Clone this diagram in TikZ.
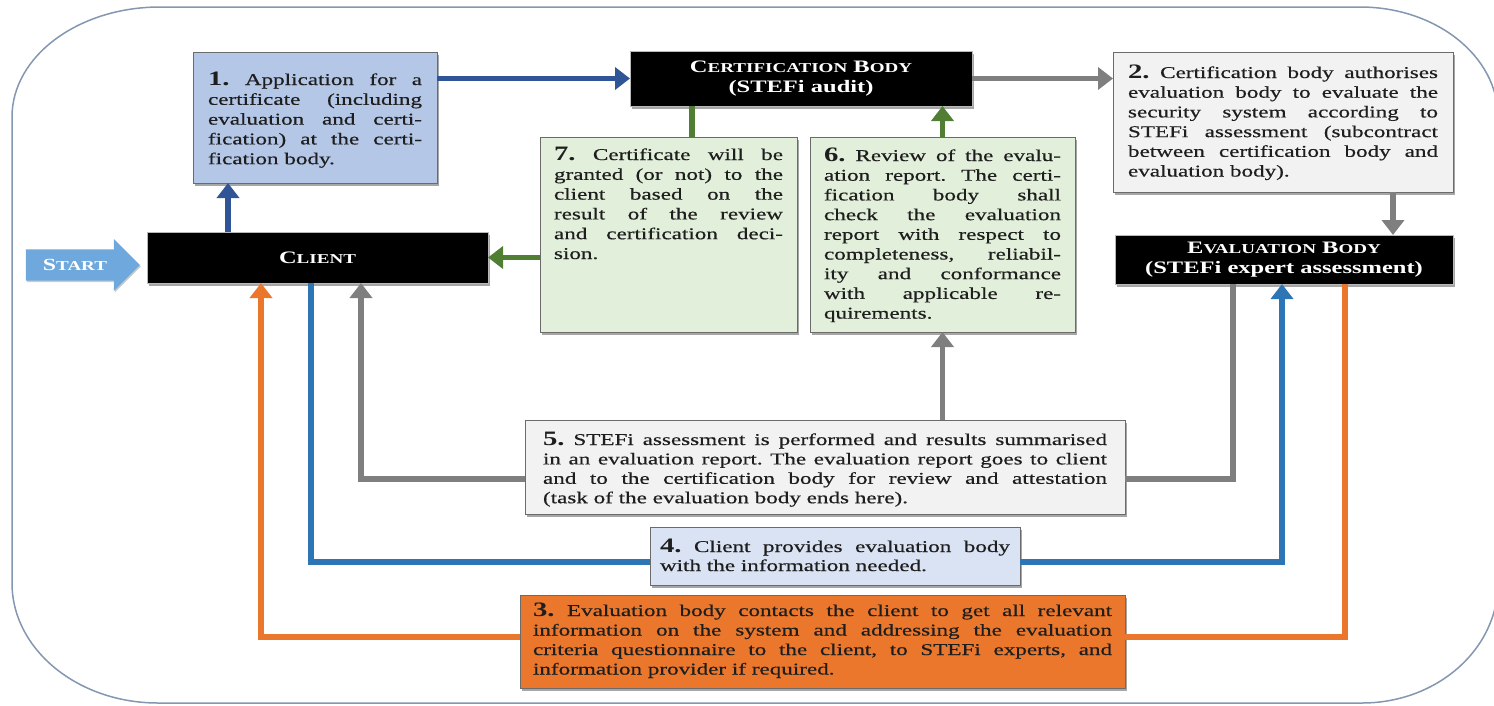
\documentclass[tikz,border=0pt]{standalone}
\usepackage{fontspec}
\setmainfont{Liberation Serif}[FakeStretch=1.4, UprightFeatures={FakeBold=0.5}]
\usetikzlibrary{arrows.meta,shadows,shapes.arrows,calc}
\definecolor{cDarkBlue}{HTML}{2F5597}
\definecolor{cBlue}{HTML}{2E75B6}
\definecolor{cGray}{HTML}{7F7F7F}
\definecolor{cGreen}{HTML}{507E32}
\definecolor{cOrange}{HTML}{EB772C}
\definecolor{cBoxOne}{HTML}{B4C7E7}
\definecolor{cLightGray}{HTML}{F2F2F2}
\definecolor{cLightGreen}{HTML}{E2EFDA}
\definecolor{cLightBlue}{HTML}{DAE3F3}
\definecolor{cFrame}{HTML}{8497B0}
\definecolor{cStart}{HTML}{6FA8DC}
\definecolor{cTxt}{HTML}{1E1E1E}
\definecolor{cBorder}{HTML}{6B6B6B}
\frenchspacing
\newcommand\jl[1]{\hbox to\hsize{#1}}
\newcommand\el[1]{\hbox{#1}}
\newcommand\nm[1]{{\fontsize{20.5pt}{20pt}\selectfont\bfseries #1}}
\newcommand\fl{\vrule height15pt width0pt\relax}
\newcommand\bx[5]{\parbox[c][#1][t]{#2}{\fontsize{16.5pt}{#3}\selectfont\vskip#4\relax #5}}
\newcommand\fsc[2]{#1{\fontsize{13.6pt}{20pt}\selectfont #2}}
\tikzset{
  tbox/.style={draw=cBorder, line width=1pt, inner ysep=0pt, outer sep=0pt, text=cTxt,
    drop shadow={shadow xshift=1.5pt, shadow yshift=-2.5pt, fill=black, opacity=0.35}},
  blackbox/.style={fill=black, draw=gray!55, line width=1pt, text=white, align=center,
    inner sep=0pt, outer sep=0pt, font=\bfseries\fontsize{17.5pt}{20pt}\selectfont,
    drop shadow={shadow xshift=1.5pt, shadow yshift=-2.5pt, fill=black, opacity=0.35}},
  conn/.style={line width=5.5pt},
  tip/.style={-{Triangle[width=22pt,length=15pt]}},
  frame/.style={draw=cFrame, line width=1.5pt}
}
\begin{document}
\begin{tikzpicture}[x=1pt,y=-1pt]
\useasboundingbox (0,0) rectangle (1494,705);
% outer frame
\draw[frame] (160,7) -- (1360,7)
  .. controls (1436.2,7) and (1498,56.3) .. (1498,117) -- (1498,583)
  .. controls (1498,649.2) and (1437.1,703) .. (1362,703) -- (158,703)
  .. controls (77.4,703) and (12,649.2) .. (12,583) -- (12,117)
  .. controls (12,56.3) and (78.3,7) .. (160,7);

% start arrow
\node[single arrow, fill=cStart, text=white, minimum height=114pt, minimum width=52pt,
  single arrow head extend=10pt, inner xsep=4pt, inner ysep=9pt, outer sep=0pt,
  font=\bfseries\fontsize{17pt}{18pt}\selectfont,
  drop shadow={shadow xshift=1pt, shadow yshift=-1.5pt, fill=black, opacity=0.2}] (start) at (75,265) {\fsc{S}{TART}};

% black boxes
\node[blackbox, minimum width=341pt, minimum height=51pt] (client) at (317.5,257.5) {\fsc{C}{LIENT}};
\node[blackbox, minimum width=342pt, minimum height=55pt] (cert) at (801,78.5)
  {\fsc{C}{ERTIFICATION} \fsc{B}{ODY}\\(STEFi audit)};
\node[blackbox, minimum width=338pt, minimum height=49pt] (eval) at (1284,259.5)
  {\fsc{E}{VALUATION} \fsc{B}{ODY}\\(STEFi expert assessment)};

% text boxes
\node[tbox, fill=cBoxOne, inner xsep=15pt] (box1) at (315,117.5) {\bx{131pt}{214pt}{19.8pt}{18pt}{%
\jl{\fl\nm{1.} Application for a}
\jl{certificate (including}
\jl{evaluation and certi-}
\jl{fication) at the certi-}
\el{fication body.}}};

\node[tbox, fill=cLightGray, inner xsep=15pt] (box2) at (1283,122) {\bx{140pt}{310pt}{19.7pt}{11pt}{%
\jl{\fl\nm{2.} Certification body authorises}
\jl{evaluation body to evaluate the}
\jl{security system according to}
\jl{STEFi assessment (subcontract}
\jl{between certification body and}
\el{evaluation body).}}};

\node[tbox, fill=cLightGreen, inner xsep=14pt] (box7) at (668.5,234.5) {\bx{195pt}{229pt}{19.8pt}{8pt}{%
\jl{\fl\nm{7.} Certificate will be}
\jl{granted (or not) to the}
\jl{client based on the}
\jl{result of the review}
\jl{and certification deci-}
\el{sion.}}};

\node[tbox, fill=cLightGreen, inner xsep=14pt] (box6) at (942.5,234.5) {\bx{195pt}{237pt}{19.7pt}{9pt}{%
\jl{\fl\nm{6.} Review of the evalu-}
\jl{ation report. The certi-}
\jl{fication body shall}
\jl{check the evaluation}
\jl{report with respect to}
\jl{completeness, reliabil-}
\jl{ity and conformance}
\jl{with applicable re-}
\el{quirements.}}};

\node[tbox, fill=cLightGray, inner xsep=18pt] (box5) at (825,467) {\bx{94pt}{564pt}{19.4pt}{10pt}{%
\jl{\fl\nm{5.} STEFi assessment is performed and results summarised}
\jl{in an evaluation report. The evaluation report goes to client}
\jl{and to the certification body for review and attestation}
\el{(task of the evaluation body ends here).}}};

\node[tbox, fill=cLightBlue, inner xsep=10pt] (box4) at (835,556) {\bx{58pt}{350pt}{19pt}{10pt}{%
\jl{\fl\nm{4.} Client provides evaluation body}
\el{with the information needed.}}};

\node[tbox, fill=cOrange, inner xsep=13pt] (box3) at (822.5,641.5) {\bx{93pt}{579pt}{19.5pt}{6pt}{%
\jl{\fl\nm{3.} Evaluation body contacts the client to get all relevant}
\jl{information on the system and addressing the evaluation}
\jl{criteria questionnaire to the client, to STEFi experts, and}
\el{information provider if required.}}};

% connectors
\draw[conn, cDarkBlue, tip] ([xshift=-89.5pt]client.north) -- ([xshift=-89.5pt]client.north |- box1.south);
\draw[cDarkBlue, line width=4.5pt, tip] (box1.east |- cert.west) -- (cert.west);
\draw[conn, cGray, tip] (cert.east) -- (cert.east -| box2.west);
\draw[conn, cGray, tip] ([xshift=110pt]box2.south) -- ([xshift=110pt]box2.south |- eval.north);
\draw[conn, cGreen] ([xshift=23.5pt]box7.north) -- ([xshift=23.5pt]box7.north |- cert.south);
\draw[conn, cGreen, tip] (box7.west |- client.east) -- (client.east);
\draw[conn, cGreen, tip] (box6.north) -- (box6.north |- cert.south);
\draw[conn, cGray, tip] (box5.north -| box6.south) -- (box6.south);
\draw[conn, cGray, tip] ($(box5.west)+(0,12)$) -| ([xshift=43.5pt]client.south);
\draw[conn, cGray] ([xshift=-51pt]eval.south) |- ($(box5.east)+(0,12)$);
\draw[conn, cBlue] ([xshift=-6.5pt]client.south) |- ($(box4.west)+(0,6)$);
\draw[conn, cBlue, tip] ($(box4.east)+(0,6)$) -| ([xshift=-2pt]eval.south);
\draw[conn, cOrange] ([xshift=61pt]eval.south) |- ($(box3.east)+(0,-4.5)$);
\draw[conn, cOrange, tip] ($(box3.west)+(0,-4.5)$) -| ([xshift=-56.5pt]client.south);
\end{tikzpicture}
\end{document}
